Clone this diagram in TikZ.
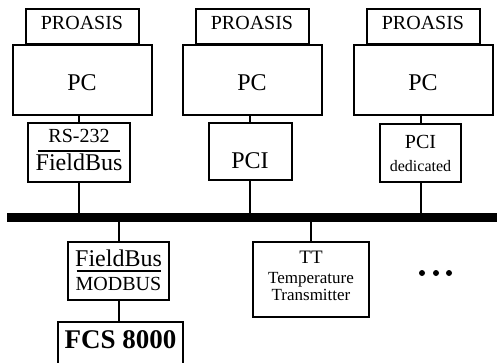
\documentclass[tikz,border=0pt]{standalone}
\usepackage{fontspec}
\setmainfont{Liberation Serif}
\newcommand\fsz[1]{\fontsize{#1}{#1}\selectfont}
\tikzset{
  box/.style={draw, line width=2pt, inner sep=0pt},
  wire/.style={line width=2pt},
  bus/.style={line width=9pt},
  txt/.style={anchor=base, inner sep=0pt}
}
\begin{document}
\begin{tikzpicture}[x=1pt,y=-1pt]
\clip (0,0) rectangle (497,362);
% PCs with PROASIS on top
\foreach \i/\x in {1/82,2/252,3/423}{
  \node[box, minimum width=113pt, minimum height=35pt] (pro\i) at (\x,26.5) {};
  \node[box, minimum width=139pt, minimum height=70pt] (pc\i) at (\x,80) {};
  \node[txt, font=\fsz{20}] at ([yshift=-2.8pt]pro\i.center) {PROASIS};
  \node[txt, font=\fsz{24}] at ([yshift=-10.7pt]pc\i.center) {PC};
}
% interface cards
\node[box, minimum width=102pt, minimum height=59pt] (if1) at (79,152.5) {};
\node[box, minimum width=83pt, minimum height=57pt] (if2) at (250,151.5) {};
\node[box, minimum width=81pt, minimum height=58pt] (if3) at (420.5,153) {};
\node[txt, font=\fsz{20}] at ([yshift=9.8pt]if1.center) {RS-232};
\draw[wire] ([xshift=-41pt,yshift=1.5pt]if1.center) -- ([xshift=41pt,yshift=1.5pt]if1.center);
\node[txt, font=\fsz{24}] at ([yshift=-17.5pt]if1.center) {FieldBus};
\node[txt, font=\fsz{24}] at ([yshift=-16.5pt]if2.center) {PCI};
\node[txt, font=\fsz{20}] at ([yshift=4.7pt]if3.center) {PCI};
\node[txt, font=\fsz{16}] at ([yshift=-18.7pt]if3.center) {dedicated};
% bus
\coordinate (busL) at (7,217.5);
\coordinate (busR) at (497,217.5);
\draw[bus] (busL) -- (busR);
\foreach \i in {1,2,3}{
  \draw[wire] (if\i.north) -- (if\i.north |- pc\i.south);
  \draw[wire] (if\i.south) -- (if\i.south |- busL);
}
% field devices
\node[box, minimum width=101pt, minimum height=58pt] (fb) at (118.5,271) {};
\node[box, minimum width=125pt, minimum height=60pt] (fcs) at (120.5,352) {};
\node[box, minimum width=116pt, minimum height=75pt] (tt) at (311,279.5) {};
\node[txt, font=\fsz{24}] at ([yshift=5pt]fb.center) {FieldBus};
\draw[wire] ([xshift=-42pt]fb.center) -- ([xshift=42pt]fb.center);
\node[txt, font=\fsz{20}] at ([yshift=-19pt]fb.center) {MODBUS};
\node[txt, font=\fsz{27}\bfseries] at ([yshift=4pt]fcs.center) {FCS 8000};
\node[txt, font=\fsz{19}] at ([yshift=16.5pt]tt.center) {TT};
\node[txt, font=\fsz{17}] at ([yshift=-3.8pt]tt.center) {Temperature};
\node[txt, font=\fsz{17}] at ([yshift=-21.2pt]tt.center) {Transmitter};
\draw[wire] (busL -| fb.north) -- (fb.north);
\draw[wire] (fb.south) -- (fb.south |- fcs.north);
\draw[wire] (busL -| tt.north) -- (tt.north);
% more devices
\foreach \x in {422,436,449}
  \fill (\x,273) circle (3pt);
\end{tikzpicture}
\end{document}
